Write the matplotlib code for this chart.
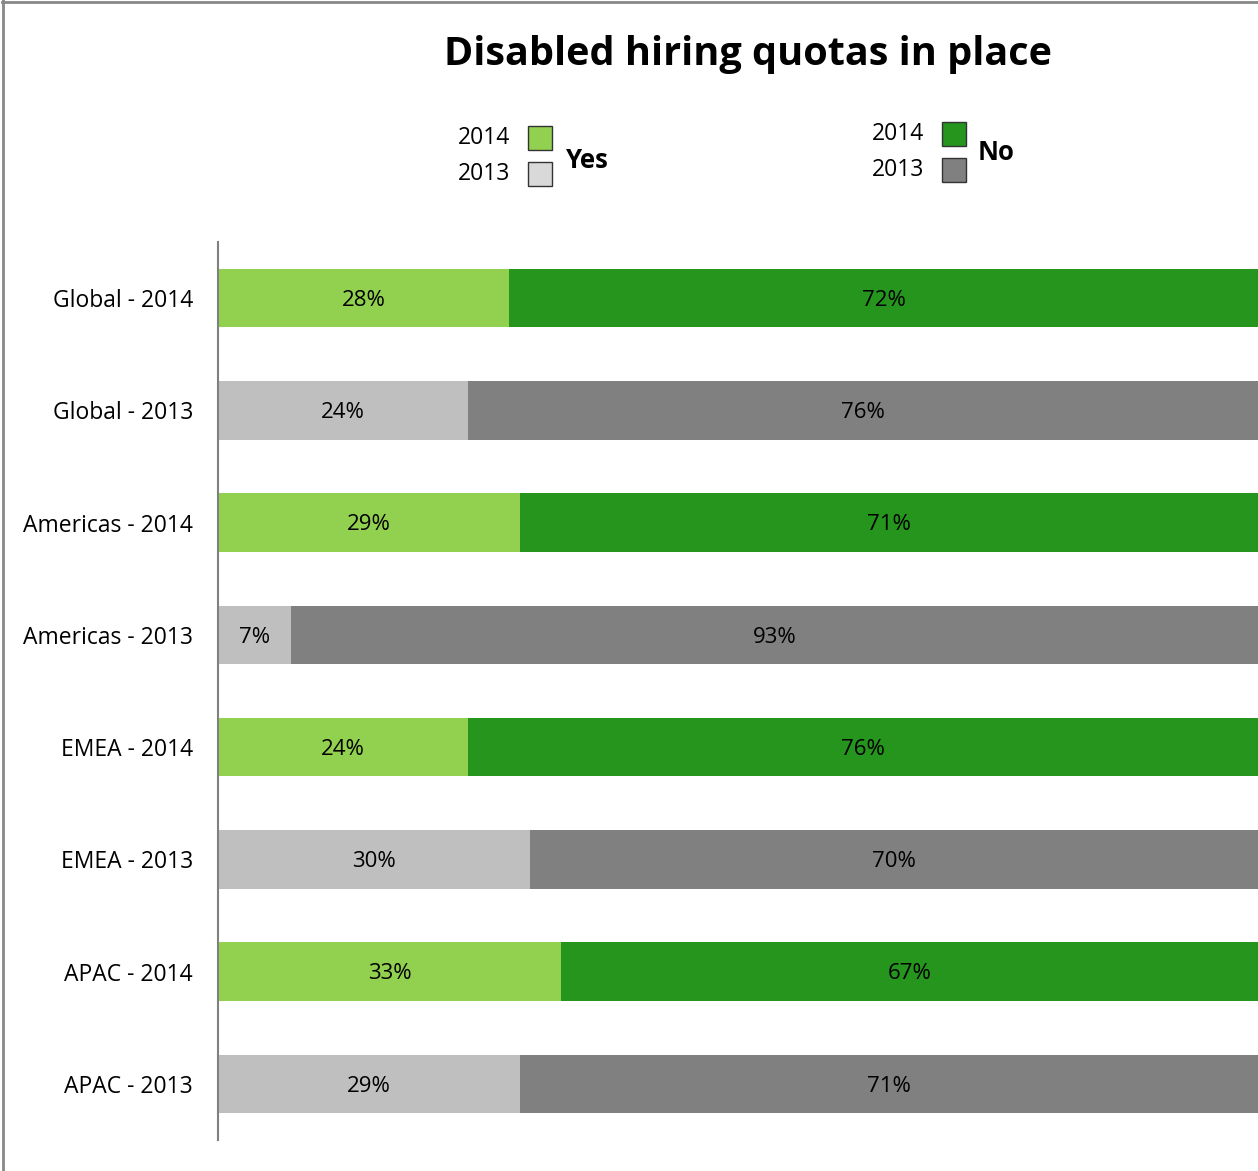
import matplotlib.pyplot as plt
from matplotlib.patches import Rectangle
from matplotlib.lines import Line2D

# Share of respondents with disabled hiring quotas in place
categories = ['Global - 2014', 'Global - 2013', 'Americas - 2014', 'Americas - 2013',
              'EMEA - 2014', 'EMEA - 2013', 'APAC - 2014', 'APAC - 2013']
yes_vals = [28, 24, 29, 7, 24, 30, 33, 29]
no_vals = [72, 76, 71, 93, 76, 70, 67, 71]
years = [2014, 2013, 2014, 2013, 2014, 2013, 2014, 2013]

YES_14, YES_13 = '#92D050', '#BFBFBF'
NO_14, NO_13 = '#25951E', '#808080'

plt.rcParams['font.family'] = ['Open Sans', 'DejaVu Sans']

W, H = 1258, 1171
fig = plt.figure(figsize=(W / 100, H / 100), dpi=100)
ax = fig.add_axes([218 / W, 1 - 1140 / H, 1040 / W, (1140 - 242) / H])

pos = list(range(len(categories)))
yes_col = [YES_14 if y == 2014 else YES_13 for y in years]
no_col = [NO_14 if y == 2014 else NO_13 for y in years]
ax.barh(pos, yes_vals, height=0.52, color=yes_col)
ax.barh(pos, no_vals, left=yes_vals, height=0.52, color=no_col)

for i in pos:
    ax.text(yes_vals[i] / 2, i + 0.02, f'{yes_vals[i]}%', ha='center', va='center', fontsize=16)
    ax.text(yes_vals[i] + no_vals[i] / 2, i + 0.02, f'{no_vals[i]}%', ha='center', va='center',
            fontsize=16)

ax.set_xlim(0, 100)
ax.set_ylim(len(categories) - 0.5, -0.5)
ax.set_yticks(pos)
ax.set_yticklabels(categories, fontsize=16.5)
ax.tick_params(axis='y', length=0, pad=18)
ax.set_xticks([])
for s in ['top', 'right', 'bottom']:
    ax.spines[s].set_visible(False)
ax.spines['left'].set_color('#808080')
ax.spines['left'].set_linewidth(1.5)

fig.text(748 / W, 1 - 54 / H, 'Disabled hiring quotas in place', ha='center', va='center',
         fontsize=28.5, fontweight='bold')

# legend built by hand: year labels, swatches, group label
def legend_group(x_sw, y14, y13, c14, c13, label, x_lab, y_lab):
    for yc, col, yr in [(y14, c14, '2014'), (y13, c13, '2013')]:
        fig.patches.append(Rectangle((x_sw / W, 1 - (yc + 12) / H), 24 / W, 24 / H,
                                     transform=fig.transFigure, facecolor=col,
                                     edgecolor='#333333', linewidth=1))
        fig.text((x_sw - 18) / W, 1 - yc / H, yr, ha='right', va='center', fontsize=16.5)
    fig.text(x_lab / W, 1 - y_lab / H, label, ha='left', va='center', fontsize=18.5,
             fontweight='bold')

legend_group(528, 138, 174, YES_14, '#D9D9D9', 'Yes', 566, 160)
legend_group(942, 134, 170, NO_14, NO_13, 'No', 978, 153)

# frame lines along the top and left edges
fig.add_artist(Line2D([2 / W, 1], [1 - 1.5 / H, 1 - 1.5 / H], transform=fig.transFigure,
                      color='#888888', linewidth=2))
fig.add_artist(Line2D([2.5 / W, 2.5 / W], [0, 1], transform=fig.transFigure,
                      color='#888888', linewidth=2))

fig.savefig('out.png', dpi=100)
